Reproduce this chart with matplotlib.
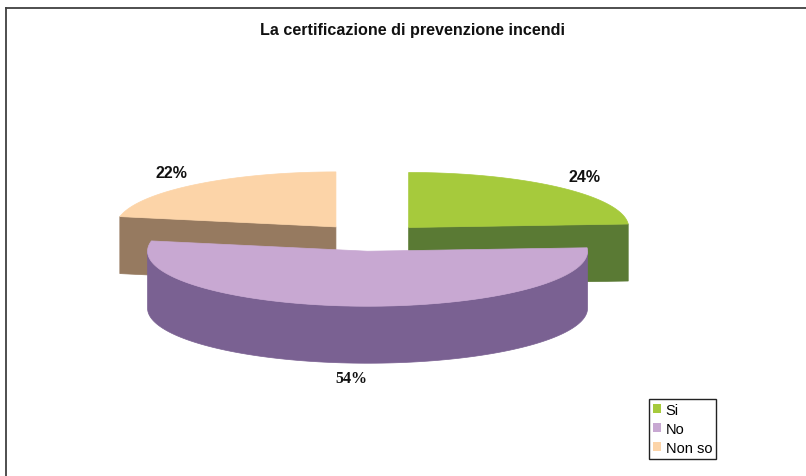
import numpy as np
import matplotlib.pyplot as plt
from matplotlib.patches import Polygon, Patch
from matplotlib.lines import Line2D

# data
labels = ["Si", "No", "Non so"]
values = [24, 54, 22]
top_colors = ["#a6ca3c", "#c8a8d2", "#fcd4a8"]
side_colors = ["#5a7a34", "#7a6192", "#967a60"]
title = "La certificazione di prevenzione incendi"

# 3d pie geometry in pixel units (y grows downwards)
cx, cy = 371, 238.5
rx, ry = 220, 55
depth = 57
explode = 55


def point(ax_x, ax_y, theta):
    t = np.radians(theta)
    return ax_x + rx * np.sin(t), ax_y - ry * np.cos(t)


def arc(ax_x, ax_y, a, b, n=120):
    th = np.linspace(a, b, n)
    t = np.radians(th)
    return np.column_stack([ax_x + rx * np.sin(t), ax_y - ry * np.cos(t)])


fig = plt.figure(figsize=(8.06, 4.77), dpi=100)
ax = fig.add_axes([0, 0, 1, 1])
ax.set_xlim(0, 806)
ax.set_ylim(477, 0)
ax.axis("off")

total = sum(values)
angles = np.cumsum([0] + [v / total * 360 for v in values])

slices = []
for i, v in enumerate(values):
    a, b = angles[i], angles[i + 1]
    mid = np.radians((a + b) / 2)
    ox = cx + explode * np.sin(mid)
    oy = cy - explode * ry / rx * np.cos(mid)
    slices.append((oy, i, a, b, ox))

# back to front
for oy, i, a, b, ox in sorted(slices):
    sc = side_colors[i]
    # radial faces
    for theta, sign in ((a, -1), (b, 1)):
        normal = np.radians(theta + 90 * sign)
        if -np.cos(normal) > 0.05:
            px, py = point(ox, oy, theta)
            quad = [(ox, oy), (px, py), (px, py + depth), (ox, oy + depth)]
            ax.add_patch(Polygon(quad, closed=True, facecolor=sc, edgecolor=sc, lw=0.5))
    # outer wall (front half only)
    lo, hi = max(a, 90), min(b, 270)
    if hi > lo:
        top = arc(ox, oy, lo, hi)
        bot = top[::-1] + [0, depth]
        ax.add_patch(Polygon(np.vstack([top, bot]), closed=True, facecolor=sc, edgecolor=sc, lw=0.5))
    # top face
    face = np.vstack([[ox, oy], arc(ox, oy, a, b), [ox, oy]])
    ax.add_patch(Polygon(face, closed=True, facecolor=top_colors[i], edgecolor=top_colors[i], lw=0.5))

    # percentage label
    mid = np.radians((a + b) / 2)
    lx = ox + rx * 1.17 * np.sin(mid)
    ly = oy - ry * 1.28 * np.cos(mid) + (depth if np.cos(mid) < 0 else 0)
    fam = "Liberation Serif" if np.cos(mid) < 0 else "Liberation Sans"
    ax.text(lx, ly, f"{values[i]}%", ha="center", va="center", fontsize=11.5,
            fontweight="bold", family=fam, color="#111111")

ax.text(412, 31, title, ha="center", va="center", fontsize=11.6, fontweight="bold",
        family="Liberation Sans", color="#111111")

# chart frame
ax.add_line(Line2D([6, 806], [9, 9], color="#404040", lw=1.3))
ax.add_line(Line2D([6, 6], [9, 477], color="#404040", lw=1.3))

handles = [Patch(facecolor=c, edgecolor="none", label=l) for c, l in zip(top_colors, labels)]
leg = fig.legend(handles=handles, loc="upper left", bbox_to_anchor=(649 / 806, 1 - 400 / 477),
                 prop={"family": "Liberation Sans", "size": 10.5}, fancybox=False, framealpha=1,
                 edgecolor="#222222", handlelength=0.6, handleheight=0.6, handletextpad=0.3,
                 borderpad=0.25, labelspacing=0.35, borderaxespad=0)
leg.get_frame().set_linewidth(1.0)

fig.savefig("out.png", dpi=100)
